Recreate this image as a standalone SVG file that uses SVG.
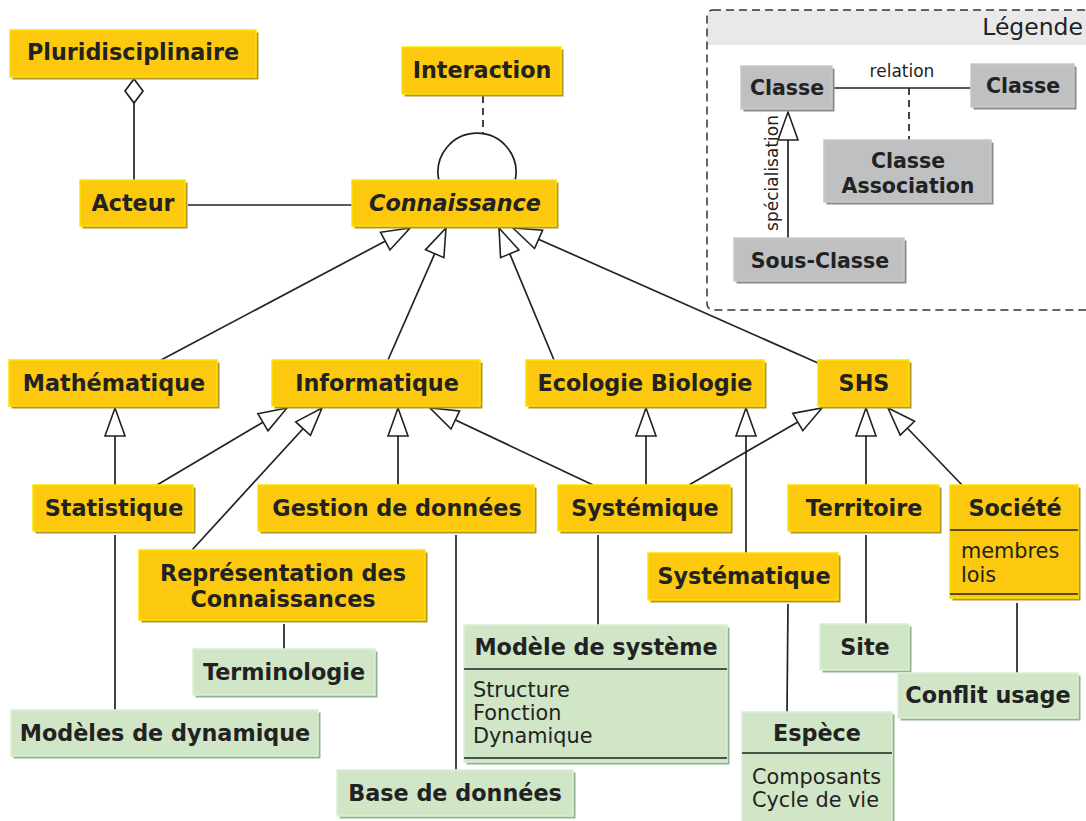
<svg xmlns="http://www.w3.org/2000/svg" width="1086" height="821" viewBox="0 0 1086 821">
<defs>
<style>
text{font-family:"DejaVu Sans","Liberation Sans",sans-serif;fill:#222}
.t{font-size:22.3px;font-weight:bold;text-anchor:middle}
.lt{font-size:20.5px;font-weight:bold;text-anchor:middle}
.a{font-size:20.8px}
.sm{font-size:17px}
.y .sh{fill:#b8922e}
.y .bx{fill:#fcc90f;stroke:#f8e400;stroke-width:1.5}
.g .sh{fill:#8fb48f}
.g .bx{fill:#d0e6c6;stroke:#dcefd6;stroke-width:1.5}
.k .sh{fill:#8a8a8a}
.k .bx{fill:#bfc0c2;stroke:#c8c8c8;stroke-width:1.5}
.sep{stroke:#222;stroke-width:1.6}
#connectors line,#connectors path{stroke:#222;stroke-width:1.7;fill:none}
#connectors .dash{stroke-dasharray:7,5}
</style>
<marker id="gen" markerUnits="userSpaceOnUse" markerWidth="32" markerHeight="24" viewBox="0 0 32 24" refX="30" refY="12" orient="auto">
<path d="M2,2 L30,12 L2,22 Z" fill="#fff" stroke="#222" stroke-width="1.6"/>
</marker>
</defs>
<rect width="1086" height="821" fill="#fff"/>

<g id="legend">
<path d="M707,45 L707,16 Q707,10 713,10 L1090,10 L1090,45 Z" fill="#e9e9ea"/>
<rect x="707" y="10" width="390" height="300" rx="6" fill="none" stroke="#333" stroke-width="1.5" stroke-dasharray="8,5"/>
<text x="1083" y="35" style="font-size:23.5px;text-anchor:end">Légende</text>
</g>

<g id="connectors">
<line x1="188" y1="205" x2="352" y2="205"/>
<path d="M134,79 L143,91 L134,103 L125,91 Z" style="fill:#fff"/>
<line x1="134" y1="103" x2="134" y2="180"/>
<line class="dash" x1="483" y1="96" x2="483" y2="133"/>
<path d="M438.8,180 A39,39 0 1 1 515.2,180"/>
<line x1="161" y1="360" x2="410" y2="228" marker-end="url(#gen)"/>
<line x1="388" y1="360" x2="446" y2="228" marker-end="url(#gen)"/>
<line x1="554" y1="360" x2="499" y2="228" marker-end="url(#gen)"/>
<line x1="818" y1="363" x2="513" y2="228" marker-end="url(#gen)"/>
<line x1="115" y1="485" x2="115" y2="408" marker-end="url(#gen)"/>
<line x1="157" y1="485" x2="287" y2="408" marker-end="url(#gen)"/>
<line x1="192" y1="550" x2="322" y2="408" marker-end="url(#gen)"/>
<line x1="398" y1="485" x2="398" y2="408" marker-end="url(#gen)"/>
<line x1="593" y1="485" x2="430" y2="408" marker-end="url(#gen)"/>
<line x1="646" y1="485" x2="646" y2="408" marker-end="url(#gen)"/>
<line x1="746" y1="553" x2="746" y2="408" marker-end="url(#gen)"/>
<line x1="689" y1="485" x2="822" y2="408" marker-end="url(#gen)"/>
<line x1="866" y1="485" x2="866" y2="408" marker-end="url(#gen)"/>
<line x1="962" y1="485" x2="888" y2="408" marker-end="url(#gen)"/>
<line x1="115" y1="535" x2="115" y2="710"/>
<line x1="284" y1="624" x2="284" y2="649"/>
<line x1="456" y1="535" x2="456" y2="770"/>
<line x1="598" y1="535" x2="598" y2="625"/>
<line x1="788" y1="604" x2="787" y2="712"/>
<line x1="866" y1="535" x2="866" y2="624"/>
<line x1="1017" y1="603" x2="1017" y2="673"/>
<line x1="833" y1="88" x2="971" y2="88"/>
<line class="dash" x1="909" y1="88" x2="909" y2="140"/>
<line x1="788" y1="238" x2="788" y2="112" marker-end="url(#gen)"/>
</g>
<text class="sm" x="902" y="77" text-anchor="middle">relation</text>
<text class="sm" transform="translate(778,173) rotate(-90)" text-anchor="middle">spécialisation</text>

<g id="n-pluri" class="y"><rect class="sh" x="12.5" y="32.5" width="246" height="47"/><rect class="bx" x="10" y="30" width="246" height="47"/><text class="t" x="133" y="60">Pluridisciplinaire</text></g>
<g id="n-interaction" class="y"><rect class="sh" x="404.5" y="49.5" width="159" height="47"/><rect class="bx" x="402" y="47" width="159" height="47"/><text class="t" x="482" y="78">Interaction</text></g>
<g id="n-connaissance" class="y"><rect class="sh" x="354.5" y="182.5" width="204" height="46"/><rect class="bx" x="352" y="180" width="204" height="46"/><text class="t" x="455" y="211" font-style="italic">Connaissance</text></g>
<g id="n-acteur" class="y"><rect class="sh" x="82.5" y="182.5" width="105" height="46"/><rect class="bx" x="80" y="180" width="105" height="46"/><text class="t" x="133" y="211">Acteur</text></g>
<g id="n-math" class="y"><rect class="sh" x="11.5" y="362.5" width="208" height="46"/><rect class="bx" x="9" y="360" width="208" height="46"/><text class="t" x="114" y="391">Mathématique</text></g>
<g id="n-info" class="y"><rect class="sh" x="274.5" y="362.5" width="208" height="46"/><rect class="bx" x="272" y="360" width="208" height="46"/><text class="t" x="377" y="391">Informatique</text></g>
<g id="n-eco" class="y"><rect class="sh" x="528.5" y="362.5" width="238" height="46"/><rect class="bx" x="526" y="360" width="238" height="46"/><text class="t" x="645" y="391">Ecologie Biologie</text></g>
<g id="n-shs" class="y"><rect class="sh" x="820.5" y="362.5" width="91" height="46"/><rect class="bx" x="818" y="360" width="91" height="46"/><text class="t" x="864" y="391">SHS</text></g>
<g id="n-stat" class="y"><rect class="sh" x="35.5" y="487.5" width="160" height="46"/><rect class="bx" x="33" y="485" width="160" height="46"/><text class="t" x="114" y="516">Statistique</text></g>
<g id="n-gestion" class="y"><rect class="sh" x="260.5" y="487.5" width="276" height="46"/><rect class="bx" x="258" y="485" width="276" height="46"/><text class="t" x="397" y="516">Gestion de données</text></g>
<g id="n-systemique" class="y"><rect class="sh" x="560.5" y="487.5" width="172" height="46"/><rect class="bx" x="558" y="485" width="172" height="46"/><text class="t" x="645" y="516">Systémique</text></g>
<g id="n-territoire" class="y"><rect class="sh" x="790.5" y="487.5" width="151" height="46"/><rect class="bx" x="788" y="485" width="151" height="46"/><text class="t" x="864" y="516">Territoire</text></g>
<g id="n-societe" class="y"><rect class="sh" x="952.5" y="487.5" width="128" height="113"/><rect class="bx" x="950" y="485" width="128" height="113"/><text class="t" x="1015" y="516">Société</text><line class="sep" x1="950" y1="530" x2="1078" y2="530"/><text class="a" x="961" y="558">membres</text><text class="a" x="961" y="582">lois</text><line class="sep" x1="950" y1="594" x2="1078" y2="594"/></g>
<g id="n-repr" class="y"><rect class="sh" x="141.5" y="552.5" width="286" height="70"/><rect class="bx" x="139" y="550" width="286" height="70"/><text class="t" x="283" y="581">Représentation des</text><text class="t" x="283" y="607">Connaissances</text></g>
<g id="n-systematique" class="y"><rect class="sh" x="650.5" y="555.5" width="190" height="47"/><rect class="bx" x="648" y="553" width="190" height="47"/><text class="t" x="744" y="584">Systématique</text></g>

<g id="n-terminologie" class="g"><rect class="sh" x="195.5" y="651.5" width="182" height="46"/><rect class="bx" x="193" y="649" width="182" height="46"/><text class="t" x="284" y="680">Terminologie</text></g>
<g id="n-modeles-dyn" class="g"><rect class="sh" x="13.5" y="712.5" width="307" height="46"/><rect class="bx" x="11" y="710" width="307" height="46"/><text class="t" x="165" y="741">Modèles de dynamique</text></g>
<g id="n-base" class="g"><rect class="sh" x="339.5" y="772.5" width="236" height="46"/><rect class="bx" x="337" y="770" width="236" height="46"/><text class="t" x="455" y="801">Base de données</text></g>
<g id="n-modele-sys" class="g"><rect class="sh" x="466.5" y="627.5" width="263" height="137"/><rect class="bx" x="464" y="625" width="263" height="137"/><text class="t" x="596" y="655">Modèle de système</text><line class="sep" x1="464" y1="669" x2="727" y2="669"/><text class="a" x="473" y="697">Structure</text><text class="a" x="473" y="720">Fonction</text><text class="a" x="473" y="743">Dynamique</text><line class="sep" x1="464" y1="758" x2="727" y2="758"/></g>
<g id="n-site" class="g"><rect class="sh" x="822.5" y="626.5" width="89" height="46"/><rect class="bx" x="820" y="624" width="89" height="46"/><text class="t" x="865" y="655">Site</text></g>
<g id="n-espece" class="g"><rect class="sh" x="744.5" y="714.5" width="150" height="120"/><rect class="bx" x="742" y="712" width="150" height="120"/><text class="t" x="817" y="741">Espèce</text><line class="sep" x1="742" y1="753" x2="892" y2="753"/><text class="a" x="752" y="784">Composants</text><text class="a" x="752" y="807">Cycle de vie</text></g>
<g id="n-conflit" class="g"><rect class="sh" x="900.5" y="675.5" width="180" height="45"/><rect class="bx" x="898" y="673" width="180" height="45"/><text class="t" x="988" y="703">Conflit usage</text></g>

<g id="l-classe1" class="k"><rect class="sh" x="743.5" y="68.5" width="91" height="43"/><rect class="bx" x="741" y="66" width="91" height="43"/><text class="lt" x="787" y="95">Classe</text></g>
<g id="l-classe2" class="k"><rect class="sh" x="973.5" y="66.5" width="103" height="43"/><rect class="bx" x="971" y="64" width="103" height="43"/><text class="lt" x="1023" y="93">Classe</text></g>
<g id="l-assoc" class="k"><rect class="sh" x="826.5" y="142.5" width="167" height="62"/><rect class="bx" x="824" y="140" width="167" height="62"/><text class="lt" x="908" y="168">Classe</text><text class="lt" x="908" y="193">Association</text></g>
<g id="l-sous" class="k"><rect class="sh" x="736.5" y="240.5" width="170" height="43"/><rect class="bx" x="734" y="238" width="170" height="43"/><text class="lt" x="820" y="268">Sous-Classe</text></g>
</svg>
